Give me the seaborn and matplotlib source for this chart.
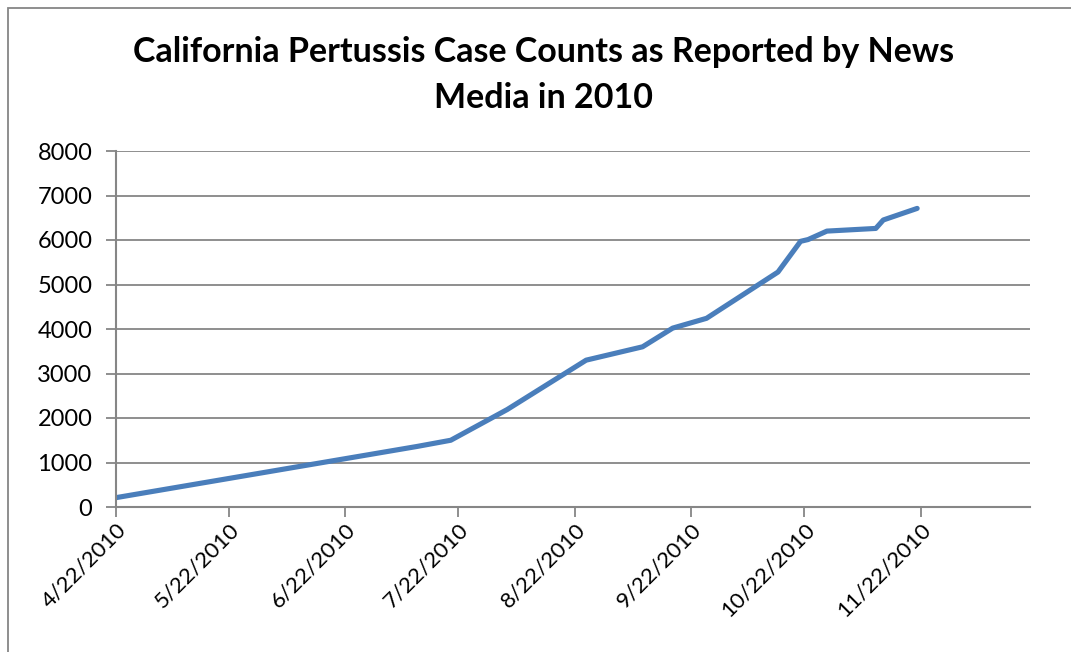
import matplotlib
matplotlib.use("Agg")
import matplotlib.pyplot as plt
import matplotlib.patches as mpatches
import seaborn as sns
import pandas as pd

# Reported cumulative pertussis cases in California, 2010
report_dates = ["2010-04-22", "2010-07-11", "2010-07-20", "2010-08-04", "2010-08-25",
                "2010-09-09", "2010-09-17", "2010-09-26", "2010-10-15", "2010-10-21",
                "2010-10-23", "2010-10-28", "2010-11-10", "2010-11-12", "2010-11-21"]
case_counts = [210, 1360, 1500, 2190, 3300,
               3600, 4020, 4240, 5280, 5970,
               6010, 6200, 6260, 6450, 6710]

tick_labels = ["4/22/2010", "5/22/2010", "6/22/2010", "7/22/2010",
               "8/22/2010", "9/22/2010", "10/22/2010", "11/22/2010"]
y_ticks = [0, 1000, 2000, 3000, 4000, 5000, 6000, 7000, 8000]

df = pd.DataFrame({"date": pd.to_datetime(report_dates), "cases": case_counts})
tick_dates = pd.to_datetime(tick_labels, format="%m/%d/%Y")

sns.set_theme(style="white")
plt.rcParams["font.family"] = ["Lato", "DejaVu Sans"]

grey = "#868686"
fig = plt.figure(figsize=(10.71, 6.52), dpi=100)
ax = fig.add_axes([116 / 1071, 1 - 507 / 652, (1030 - 116) / 1071, (507 - 151) / 652])

# chart-area frame
fig.patches.append(mpatches.Rectangle((8 / 1071, -0.1), 1.2, 1 - 8 / 652 + 0.1,
                                      transform=fig.transFigure, fill=False,
                                      edgecolor=grey, linewidth=1.3))

sns.lineplot(data=df, x="date", y="cases", ax=ax, color="#4A7EBB",
             linewidth=3.7, solid_capstyle="round", solid_joinstyle="round")

ax.set_xlim(tick_dates[0], pd.Timestamp("2010-12-21"))
ax.set_ylim(y_ticks[0], y_ticks[-1])
ax.set_yticks(y_ticks)
ax.set_yticklabels([str(v) for v in y_ticks])
ax.set_xticks(tick_dates)
ax.set_xticklabels(tick_labels, rotation=45, ha="right", rotation_mode="anchor")

ax.grid(axis="y", color=grey, linewidth=1.3)
ax.grid(axis="x", visible=False)
ax.set_axisbelow(True)
for side in ["top", "right"]:
    ax.spines[side].set_visible(False)
for side in ["left", "bottom"]:
    ax.spines[side].set_color(grey)
    ax.spines[side].set_linewidth(1.5)

ax.tick_params(axis="both", which="major", length=7, width=1.3, color=grey,
               direction="out", labelsize=17, labelcolor="black",
               left=True, bottom=True)
ax.tick_params(axis="x", labelsize=16, pad=2)
ax.tick_params(axis="y", pad=10)
ax.set_xlabel("")
ax.set_ylabel("")

fig.text(544 / 1071, 1 - 75 / 652,
         "California Pertussis Case Counts as Reported by News\nMedia in 2010",
         ha="center", va="center", fontsize=24.5, fontweight="bold",
         linespacing=1.5, color="black")

fig.savefig("out.png", dpi=100, facecolor="white")
